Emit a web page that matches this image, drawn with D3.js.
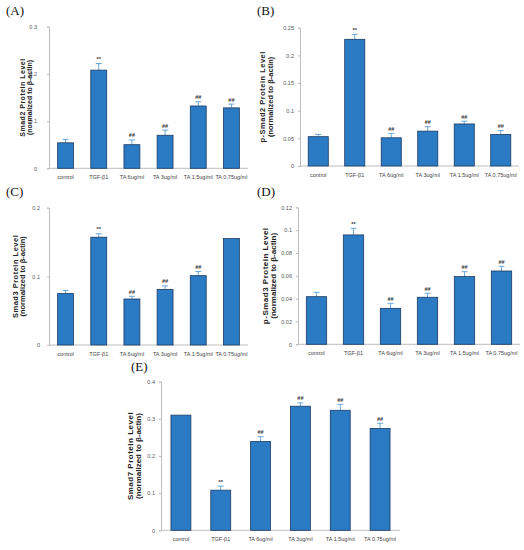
<!DOCTYPE html>
<html>
<head>
<meta charset="utf-8">
<script src="https://cdn.jsdelivr.net/npm/d3@7"></script>
<style>
  html, body { margin: 0; padding: 0; background: #fff; }
  svg { display: block; }
</style>
</head>
<body>
<svg id="chart" width="524" height="550"></svg>
<script>
// ---------- DATA ----------
const categories = ["control", "TGF-β1", "TA 6ug/ml", "TA 3ug/ml", "TA 1.5ug/ml", "TA 0.75ug/ml"];

const smad2Values  = [0.054, 0.208, 0.050, 0.070, 0.132, 0.128];
const smad2Errors  = [0.007, 0.014, 0.010, 0.011, 0.009, 0.008];
const smad2Marks   = ["", "**", "##", "##", "##", "##"];
const smad2Ticks   = [0, 0.1, 0.2, 0.3];

const pSmad2Values = [0.053, 0.229, 0.051, 0.063, 0.076, 0.057];
const pSmad2Errors = [0.004, 0.009, 0.008, 0.008, 0.005, 0.007];
const pSmad2Marks  = ["", "**", "##", "##", "##", "##"];
const pSmad2Ticks  = [0, 0.05, 0.1, 0.15, 0.2, 0.25];

const smad3Values  = [0.075, 0.157, 0.067, 0.081, 0.101, 0.155];
const smad3Errors  = [0.0045, 0.005, 0.004, 0.005, 0.006, 0];
const smad3Marks   = ["", "**", "##", "##", "##", ""];
const smad3Ticks   = [0, 0.1, 0.2];

const pSmad3Values = [0.0417, 0.0958, 0.0315, 0.0412, 0.0593, 0.0642];
const pSmad3Errors = [0.0038, 0.0058, 0.0044, 0.0035, 0.0043, 0.0041];
const pSmad3Marks  = ["", "**", "##", "##", "##", "##"];
const pSmad3Ticks  = [0, 0.02, 0.04, 0.06, 0.08, 0.1, 0.12];

const smad7Values  = [0.310, 0.108, 0.239, 0.334, 0.323, 0.274];
const smad7Errors  = [0, 0.011, 0.013, 0.009, 0.016, 0.014];
const smad7Marks   = ["", "**", "##", "##", "##", "##"];
const smad7Ticks   = [0, 0.1, 0.2, 0.3, 0.4];

// ---------- LAYOUT ----------
const panels = [
  { letter: "(A)", lx: 6,   ly: 15,  title: "Smad2 Protein Level",   values: smad2Values,  errors: smad2Errors,  marks: smad2Marks,  ticks: smad2Ticks,
    x0: 49,  x1: 248, yTop: 26.7,  yBot: 168.3, tGap: 12, t1x: 23,  t2x: 30,  tfs: 7,   pad: 0.52 },
  { letter: "(B)", lx: 257, ly: 15,  title: "p-Smad2 Protein Level", values: pSmad2Values, errors: pSmad2Errors, marks: pSmad2Marks, ticks: pSmad2Ticks,
    x0: 300, x1: 519, yTop: 27.7,  yBot: 166,   tGap: 6,  t1x: 263, t2x: 271, tfs: 7.5, pad: 0.45 },
  { letter: "(C)", lx: 6,   ly: 196, title: "Smad3 Protein Level",   values: smad3Values,  errors: smad3Errors,  marks: smad3Marks,  ticks: smad3Ticks,
    x0: 49,  x1: 248, yTop: 207.7, yBot: 345,   tGap: 9,  t1x: 16,  t2x: 23,  tfs: 7.5, pad: 0.52 },
  { letter: "(D)", lx: 257, ly: 196, title: "p-Smad3 Protein Level", values: pSmad3Values, errors: pSmad3Errors, marks: pSmad3Marks, ticks: pSmad3Ticks,
    x0: 298, x1: 520, yTop: 207.3, yBot: 344.3, tGap: 6,  t1x: 266, t2x: 274, tfs: 8,   pad: 0.45 },
  { letter: "(E)", lx: 131, ly: 371, title: "Smad7 Protein Level",   values: smad7Values,  errors: smad7Errors,  marks: smad7Marks,  ticks: smad7Ticks,
    x0: 161, x1: 400, yTop: 381.7, yBot: 530.3, tGap: 6,  t1x: 131, t2x: 139, tfs: 8,   pad: 0.5 }
];

const svg = d3.select("#chart");
const barFill = "#2a7bc4";
const barStroke = "#1b3a63";
const errColor = "#6aa8dc";
const axisColor = "#bdbdbd";

panels.forEach(p => {
  const g = svg.append("g");
  const maxTick = p.ticks[p.ticks.length - 1];
  const x = d3.scaleBand().domain(categories).range([p.x0, p.x1]).paddingInner(p.pad).paddingOuter(p.pad / 2);
  const y = d3.scaleLinear().domain([0, maxTick]).range([p.yBot, p.yTop]);
  const dec = d3.max(p.ticks, t => { const s = String(t); return s.includes(".") ? s.split(".")[1].length : 0; });

  // Panel letter
  g.append("text").attr("x", p.lx).attr("y", p.ly)
    .attr("font-family", "'Liberation Serif', 'DejaVu Serif', serif")
    .attr("font-size", 13).attr("fill", "#111").text(p.letter);

  // Y axis
  const yAxis = d3.axisLeft(y).tickValues(p.ticks).tickSize(2).tickPadding(p.tGap - 2)
    .tickFormat(d => d === 0 ? "0" : String(+d.toFixed(dec)));
  const ya = g.append("g").attr("transform", `translate(${p.x0},0)`).call(yAxis);
  ya.select(".domain").attr("stroke", axisColor);
  ya.selectAll(".tick line").attr("stroke", axisColor);
  ya.selectAll(".tick text").attr("fill", "#555")
    .attr("font-family", "'Liberation Sans', Arial, sans-serif").attr("font-size", 5.5);

  // X axis
  const xAxis = d3.axisBottom(x).tickSize(0).tickPadding(7);
  const xa = g.append("g").attr("transform", `translate(0,${p.yBot})`).call(xAxis);
  xa.select(".domain").attr("stroke", axisColor).attr("d", `M${p.x0},0H${p.x1}`);
  xa.selectAll(".tick text").attr("fill", "#444")
    .attr("font-family", "'Liberation Sans', Arial, sans-serif").attr("font-size", 5.5);

  // Y title
  const cy = (p.yTop + p.yBot) / 2;
  g.append("text").attr("transform", `translate(${p.t1x},${cy}) rotate(-90)`)
    .attr("text-anchor", "middle").attr("font-family", "'Liberation Sans', Arial, sans-serif")
    .attr("font-weight", "bold").attr("font-size", p.tfs).attr("letter-spacing", 0.5).attr("fill", "#222")
    .attr("dominant-baseline", "middle")
    .text(p.title);
  g.append("text").attr("transform", `translate(${p.t2x},${cy}) rotate(-90)`)
    .attr("text-anchor", "middle").attr("font-family", "'Liberation Sans', Arial, sans-serif")
    .attr("font-weight", "bold").attr("font-size", p.tfs).attr("fill", "#222")
    .attr("dominant-baseline", "middle")
    .text("(normalized to β-actin)");

  const rows = categories.map((c, i) => ({ c, v: p.values[i], e: p.errors[i], m: p.marks[i] }));

  // Error bars (upper only)
  const eg = g.append("g");
  rows.filter(d => d.e > 0).forEach(d => {
    const cx = x(d.c) + x.bandwidth() / 2;
    eg.append("line").attr("x1", cx).attr("x2", cx).attr("y1", y(d.v)).attr("y2", y(d.v + d.e))
      .attr("stroke", errColor).attr("stroke-width", 1);
    eg.append("line").attr("x1", cx - 3).attr("x2", cx + 3).attr("y1", y(d.v + d.e)).attr("y2", y(d.v + d.e))
      .attr("stroke", errColor).attr("stroke-width", 1);
  });

  // Bars
  g.append("g").selectAll("rect").data(rows).join("rect")
    .attr("x", d => x(d.c)).attr("width", x.bandwidth())
    .attr("y", d => y(d.v)).attr("height", d => p.yBot - y(d.v))
    .attr("fill", barFill).attr("stroke", barStroke).attr("stroke-width", 0.8);

  // Significance marks
  g.append("g").selectAll("text").data(rows.filter(d => d.m)).join("text")
    .attr("x", d => x(d.c) + x.bandwidth() / 2)
    .attr("y", d => y(d.v + d.e) - 2.5)
    .attr("text-anchor", "middle").attr("font-family", "'Liberation Sans', Arial, sans-serif")
    .attr("font-weight", "bold").attr("font-size", 5.5).attr("fill", "#333")
    .text(d => d.m);
});
</script>
</body>
</html>
